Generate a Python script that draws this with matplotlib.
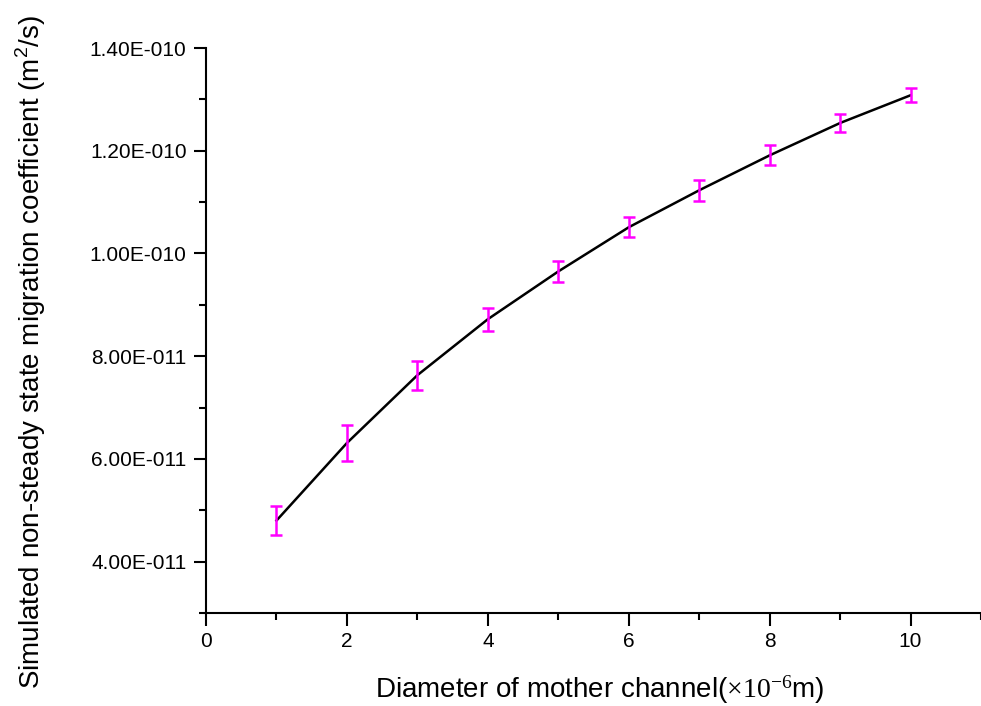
import numpy as np
import matplotlib.pyplot as plt
from matplotlib.ticker import MultipleLocator, FuncFormatter

plt.rcParams['font.family'] = ['Liberation Sans', 'DejaVu Sans']
plt.rcParams['mathtext.fontset'] = 'custom'
plt.rcParams['mathtext.rm'] = 'Liberation Serif'
plt.rcParams['mathtext.sf'] = 'Liberation Sans'

# data
diameter = [1, 2, 3, 4, 5, 6, 7, 8, 9, 10]
coeff = [4.80e-11, 6.31e-11, 7.63e-11, 8.72e-11, 9.65e-11,
         1.051e-10, 1.123e-10, 1.191e-10, 1.254e-10, 1.308e-10]
err = [0.29e-11, 0.36e-11, 0.28e-11, 0.22e-11, 0.21e-11,
       0.195e-11, 0.21e-11, 0.195e-11, 0.175e-11, 0.14e-11]

fig = plt.figure(figsize=(9.81, 7.06), dpi=100)
ax = fig.add_axes([0.21, 0.1317, 0.79, 0.8003])

ax.plot(diameter, coeff, color='black', lw=1.8, zorder=2)
ax.errorbar(diameter, coeff, yerr=err, fmt='none', ecolor='#ff00ff',
            elinewidth=1.8, capsize=4.3, capthick=1.8, zorder=3)

ax.set_xlim(0, 11)
ax.set_ylim(3e-11, 1.4e-10)
ax.xaxis.set_major_locator(MultipleLocator(2))
ax.xaxis.set_minor_locator(MultipleLocator(1))
ax.yaxis.set_major_locator(MultipleLocator(2e-11))
ax.yaxis.set_minor_locator(MultipleLocator(1e-11))

def sci(v, pos):
    m, e = f"{v:.2E}".split("E")
    sign = "-" if int(e) < 0 else ""
    return f"{m}E{sign}{abs(int(e)):03d}"

ax.yaxis.set_major_formatter(FuncFormatter(sci))
ax.yaxis.get_offset_text().set_visible(False)

for s in ['top', 'right']:
    ax.spines[s].set_visible(False)
for s in ['left', 'bottom']:
    ax.spines[s].set_linewidth(1.5)

ax.tick_params(which='major', direction='out', length=9, width=1.5,
               labelsize=15, pad=5)
ax.tick_params(which='minor', direction='out', length=5, width=1.5)

ax.set_xlabel(r'Diameter of mother channel($\mathrm{\times10^{-6}}$m)',
              fontsize=20)
ax.set_ylabel(r'Simulated non-steady state migration coefficient (m$^{\mathsf{2}}$/s)',
              fontsize=20)
ax.xaxis.set_label_coords(0.508, -0.107)
ax.yaxis.set_label_coords(-0.204, 0.462)

fig.savefig('out.png', dpi=100)
